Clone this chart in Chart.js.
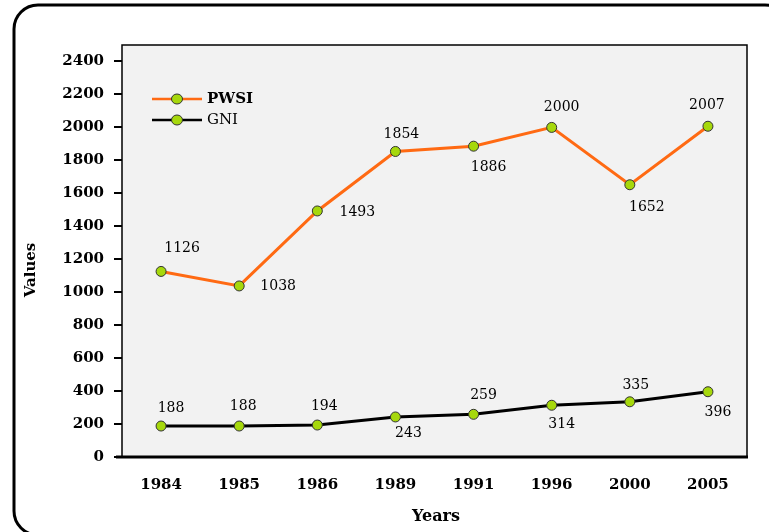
<!DOCTYPE html>
<html>
<head>
<meta charset="utf-8">
<script src="https://cdn.jsdelivr.net/npm/chart.js@4"></script>
<style>
    html, body { margin: 0; padding: 0; background: #fff; }
    canvas { display: block; }
</style>
</head>
<body>
<canvas id="lineChart" width="769" height="532"></canvas>
<script>
// chart values
const years = ['1984', '1985', '1986', '1989', '1991', '1996', '2000', '2005'];
const pwsi = [1126, 1038, 1493, 1854, 1886, 2000, 1652, 2007];
const gni = [188, 188, 194, 243, 259, 314, 335, 396];
const yTicks = [0, 200, 400, 600, 800, 1000, 1200, 1400, 1600, 1800, 2000, 2200, 2400];

// where each value label sits relative to its point
const pwsiLabelOffsets = [[21, -23], [39, 0], [40, 1], [6, -17], [15, 21], [10, -20], [17, 23], [-1, -21]];
const gniLabelOffsets = [[10, -18], [4, -20], [7, -19], [13, 16], [10, -19], [10, 19], [6, -16], [10, 21]];

const serif = '"DejaVu Serif", "Liberation Serif", serif';
const dotColor = '#a6d80c';

const framePlugin = {
    id: 'frame',
    beforeDraw(chart) {
        const ctx = chart.ctx;
        const a = chart.chartArea;
        ctx.save();
        ctx.fillStyle = '#fff';
        ctx.fillRect(0, 0, chart.width, chart.height);
        // outer rounded frame, runs off the right and bottom edges
        ctx.strokeStyle = '#000';
        ctx.lineWidth = 3;
        ctx.beginPath();
        ctx.roundRect(14, 5, 775, 530, 24);
        ctx.stroke();
        // plot area
        ctx.fillStyle = '#f2f2f2';
        ctx.fillRect(a.left, a.top, a.right - a.left, a.bottom - a.top);
        ctx.lineWidth = 1.5;
        ctx.strokeRect(a.left, a.top, a.right - a.left, a.bottom - a.top);
        ctx.lineWidth = 3;
        ctx.beginPath();
        ctx.moveTo(a.left - 6, a.bottom);
        ctx.lineTo(a.right + 1, a.bottom);
        ctx.stroke();
        ctx.restore();
    },
    afterDraw(chart) {
        const ctx = chart.ctx;
        ctx.save();
        ctx.fillStyle = '#000';
        ctx.textAlign = 'center';
        ctx.textBaseline = 'middle';
        // axis titles
        ctx.font = 'bold 16px ' + serif;
        ctx.fillText('Years', 436, 517);
        ctx.translate(31, 270);
        ctx.rotate(-Math.PI / 2);
        ctx.font = 'bold 15px ' + serif;
        ctx.fillText('Values', 0, 0);
        ctx.restore();

        // legend
        const items = [
            { text: 'PWSI', color: '#ff6a13', y: 99, bold: true },
            { text: 'GNI', color: '#000', y: 120, bold: false }
        ];
        ctx.save();
        items.forEach(it => {
            ctx.strokeStyle = it.color;
            ctx.lineWidth = 2.5;
            ctx.beginPath();
            ctx.moveTo(152, it.y);
            ctx.lineTo(202, it.y);
            ctx.stroke();
            ctx.fillStyle = dotColor;
            ctx.strokeStyle = '#333';
            ctx.lineWidth = 1;
            ctx.beginPath();
            ctx.ellipse(177, it.y, 5.5, 5, 0, 0, Math.PI * 2);
            ctx.fill();
            ctx.stroke();
            ctx.fillStyle = '#000';
            ctx.font = (it.bold ? 'bold ' : '') + '15px ' + serif;
            ctx.textAlign = 'left';
            ctx.textBaseline = 'middle';
            ctx.fillText(it.text, 207, it.y);
        });
        ctx.restore();
    },
    afterDatasetsDraw(chart) {
        const ctx = chart.ctx;
        const offsets = [pwsiLabelOffsets, gniLabelOffsets];
        ctx.save();
        ctx.fillStyle = '#000';
        ctx.font = '14px ' + serif;
        ctx.textAlign = 'center';
        ctx.textBaseline = 'middle';
        chart.data.datasets.forEach((ds, di) => {
            const meta = chart.getDatasetMeta(di);
            meta.data.forEach((pt, i) => {
                const [dx, dy] = offsets[di][i];
                ctx.fillText(String(ds.data[i]), pt.x + dx, pt.y + dy);
            });
        });
        ctx.restore();
    }
};

new Chart(document.getElementById('lineChart'), {
    type: 'line',
    data: {
        labels: years,
        datasets: [
            {
                label: 'PWSI',
                data: pwsi,
                borderColor: '#ff6a13',
                borderWidth: 3,
                pointRadius: 5,
                pointBackgroundColor: dotColor,
                pointBorderColor: '#333',
                pointBorderWidth: 1,
                tension: 0
            },
            {
                label: 'GNI',
                data: gni,
                borderColor: '#000',
                borderWidth: 3,
                pointRadius: 5,
                pointBackgroundColor: dotColor,
                pointBorderColor: '#333',
                pointBorderWidth: 1,
                tension: 0
            }
        ]
    },
    options: {
        responsive: false,
        animation: false,
        layout: { padding: { left: 0, top: 45, right: 22, bottom: 0 } },
        plugins: {
            legend: { display: false },
            tooltip: { enabled: false }
        },
        scales: {
            x: {
                offset: true,
                grid: { display: false, drawTicks: false },
                border: { display: false },
                ticks: {
                    color: '#000',
                    padding: 19,
                    maxRotation: 0,
                    font: { family: serif, size: 15, weight: 'bold' }
                },
                afterFit: s => { s.height = 75; }
            },
            y: {
                min: 0,
                max: 2500,
                afterBuildTicks: axis => { axis.ticks = yTicks.map(v => ({ value: v })); },
                afterFit: s => { s.width = 122; },
                grid: {
                    drawOnChartArea: false,
                    drawTicks: true,
                    tickLength: 8,
                    color: '#000',
                    lineWidth: 2
                },
                border: { display: false },
                ticks: {
                    color: '#000',
                    padding: 10,
                    callback: v => String(v),
                    font: { family: serif, size: 15, weight: 'bold' }
                }
            }
        }
    },
    plugins: [framePlugin]
});
</script>
</body>
</html>
